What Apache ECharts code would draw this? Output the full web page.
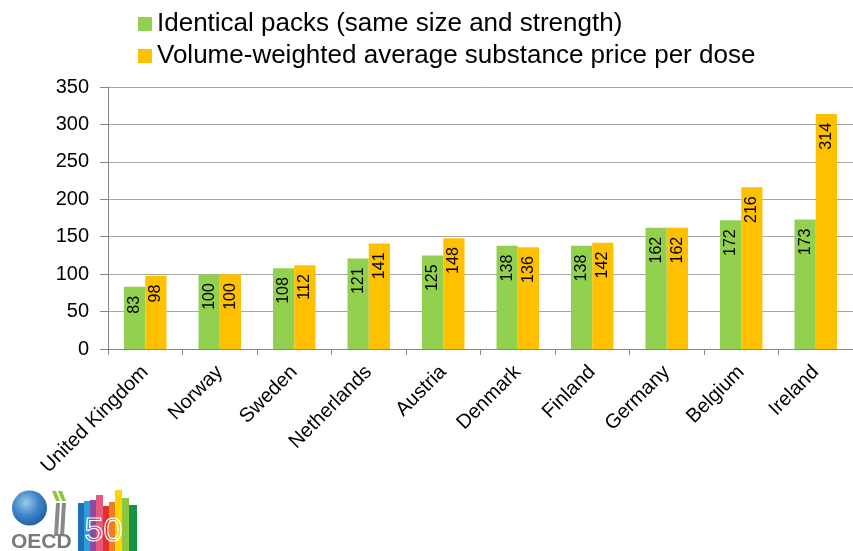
<!DOCTYPE html>
<html>
<head>
<meta charset="utf-8">
<script src="https://cdn.jsdelivr.net/npm/echarts@6/dist/echarts.min.js"></script>
<style>
  html, body { margin: 0; padding: 0; background: #fff; }
  #chart { width: 853px; height: 551px; }
</style>
</head>
<body>
<div id="chart"></div>
<script>
// Price index by country, two measures
const countries = ['United Kingdom', 'Norway', 'Sweden', 'Netherlands', 'Austria',
                   'Denmark', 'Finland', 'Germany', 'Belgium', 'Ireland'];
const identicalPacks = [83, 100, 108, 121, 125, 138, 138, 162, 172, 173];
const volumeWeighted = [98, 100, 112, 141, 148, 136, 142, 162, 216, 314];
const seriesNames = ['Identical packs (same size and strength)',
                     'Volume-weighted average substance price per dose'];
const yTicks = { min: 0, max: 350, step: 50 };

const FONT = '"Liberation Sans", Arial, sans-serif';

const barLabel = {
  show: true,
  position: 'insideTop',
  rotate: 90,
  align: 'right',
  verticalAlign: 'middle',
  distance: 9,
  color: '#000',
  fontFamily: FONT,
  fontSize: 16
};

// OECD 50th anniversary logo, drawn from simple shapes
const logoBars = [
  { x: 78, w: 6, top: 503, color: '#1f6fb8' },
  { x: 84, w: 6, top: 501, color: '#25a0dc' },
  { x: 90, w: 6, top: 500, color: '#8e4a9e' },
  { x: 96, w: 7, top: 495, color: '#e8577d' },
  { x: 103, w: 6, top: 506, color: '#e2312d' },
  { x: 109, w: 6, top: 502, color: '#ef7d22' },
  { x: 115, w: 7, top: 490, color: '#ffd400' },
  { x: 122, w: 7, top: 498, color: '#8cc63f' },
  { x: 129, w: 8, top: 505, color: '#14924a' }
];
const logo = [
  { type: 'circle', shape: { cx: 29.5, cy: 508, r: 17.5 },
    style: { fill: new echarts.graphic.RadialGradient(0.4, 0.35, 0.75,
      [{ offset: 0, color: '#9cc9ec' }, { offset: 0.5, color: '#3d85c8' }, { offset: 1, color: '#1a56a0' }]) } },
  { type: 'polygon', shape: { points: [[52, 491], [56, 491], [60, 501], [56, 501]] }, style: { fill: '#8cc63f' } },
  { type: 'polygon', shape: { points: [[58, 491], [62, 491], [66, 501], [62, 501]] }, style: { fill: '#8cc63f' } },
  { type: 'polygon', shape: { points: [[56, 503], [60, 503], [58, 536], [54, 536]] }, style: { fill: '#8a8a8a' } },
  { type: 'polygon', shape: { points: [[62, 503], [66, 503], [64, 536], [60, 536]] }, style: { fill: '#8a8a8a' } },
  { type: 'text', left: 11, top: 532,
    style: { text: 'OECD', fill: '#7a7a7a', font: 'bold 21px ' + FONT } }
].concat(logoBars.map(b => ({
  type: 'rect', shape: { x: b.x, y: b.top, width: b.w, height: 551 - b.top },
  style: { fill: b.color }
}))).concat([
  { type: 'text', left: 84, top: 514,
    style: { text: '50', fill: 'none', stroke: '#fff', lineWidth: 1.2,
             font: '34px ' + FONT } }
]);

const chart = echarts.init(document.getElementById('chart'), null, { renderer: 'canvas' });
chart.setOption({
  animation: false,
  backgroundColor: '#fff',
  textStyle: { fontFamily: FONT },
  legend: {
    orient: 'vertical',
    left: 133,
    top: 6,
    itemWidth: 14,
    itemHeight: 14,
    itemGap: 6,
    icon: 'rect',
    textStyle: { fontSize: 26, color: '#000', fontFamily: FONT },
    data: seriesNames
  },
  grid: { left: 108, right: -5, top: 87, bottom: 202, containLabel: false },
  xAxis: {
    type: 'category',
    data: countries,
    axisLine: { lineStyle: { color: '#868686', width: 1 } },
    axisTick: { show: true, alignWithLabel: false, length: 6, lineStyle: { color: '#868686' } },
    axisLabel: { rotate: 45, interval: 0, margin: 20, fontSize: 20, color: '#000', fontFamily: FONT }
  },
  yAxis: {
    type: 'value',
    min: yTicks.min,
    max: yTicks.max,
    interval: yTicks.step,
    axisLine: { show: true, lineStyle: { color: '#868686' } },
    axisTick: { show: true, length: 8, lineStyle: { color: '#868686' } },
    axisLabel: { fontSize: 20, color: '#000', margin: 19, fontFamily: FONT },
    splitLine: { lineStyle: { color: '#a6a6a6', width: 1 } }
  },
  series: [
    { name: seriesNames[0], type: 'bar', data: identicalPacks,
      itemStyle: { color: '#92D050' }, barGap: '0%', barCategoryGap: '43%', label: barLabel },
    { name: seriesNames[1], type: 'bar', data: volumeWeighted,
      itemStyle: { color: '#FFC000' }, barGap: '0%', barCategoryGap: '43%', label: barLabel }
  ],
  graphic: logo
});
</script>
</body>
</html>
